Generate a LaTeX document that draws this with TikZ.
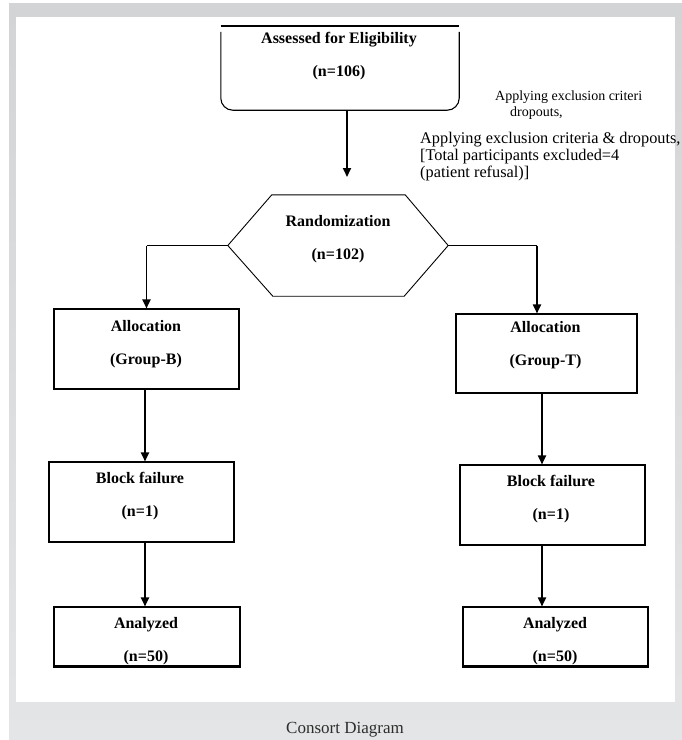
\documentclass[tikz,border=0pt]{standalone}
\usepackage{fontspec}
\setmainfont{Liberation Serif}
\usepackage{tikz}
\usetikzlibrary{positioning,arrows.meta}
\usepackage{xcolor}
\definecolor{greytop}{RGB}{211,212,214}
\definecolor{greybottom}{RGB}{228,229,230}
\definecolor{captiongrey}{RGB}{45,45,45}

\begin{document}
\begin{tikzpicture}[
    x=1pt, y=-1pt,
    frame/.style={
      draw,
      line width=1.1pt,
      minimum width=185pt,
      minimum height=80pt,
      inner sep=0pt
    },
    boxtext/.style={
      font=\bfseries\fontsize{16}{33}\selectfont,
      align=center,
      inner sep=0pt
    },
    note/.style={
      font=\fontsize{16.3}{17}\selectfont,
      align=left,
      anchor=west,
      inner sep=0pt
    },
    flow/.style={line width=1.8pt, -{Triangle[length=9pt,width=8pt]}},
    split/.style={line width=0.8pt}
  ]

    \useasboundingbox (0,0) rectangle (682,740);

    % Fondo
    \shade[top color=greytop, bottom color=greybottom] (9,3) rectangle (682,740);
    \fill[white] (16,17) rectangle (675,702);

    % Elegibilidad
    \node[minimum width=238pt, minimum height=84pt, inner sep=0pt] (assess) at (340,68) {};
    \draw[line width=1.8pt] (assess.north west) -- (assess.north east);
    \draw[line width=1.1pt, rounded corners=12pt]
      ([yshift=-6pt]assess.north west) -- (assess.south west)
      -- (assess.south east) -- ([yshift=-6pt]assess.north east);
    \node[boxtext] (assesstxt) at (339,56) {Assessed for Eligibility\\(n=106)};

    % Exclusiones
    \node[note, font=\fontsize{14}{16}\selectfont] (excl1) at (495,105)
      {Applying exclusion criteri\\\hspace*{15pt}dropouts,};
    \node[note] (excl2) at (420,157)
      {Applying exclusion criteria \& dropouts,\\{[}Total participants excluded=4\\(patient refusal)]};

    % Aleatorizacion
    \node[minimum width=220pt, minimum height=101pt, inner sep=0pt] (rand) at (338,245.5) {};
    \draw[line width=0.9pt]
      (rand.west) -- ([xshift=44pt]rand.north west) -- ([xshift=-43pt]rand.north east)
      -- (rand.east) -- ([xshift=-44pt]rand.south east) -- ([xshift=45pt]rand.south west)
      -- cycle;
    \node[boxtext] (randtxt) at (338,239.5) {Randomization\\(n=102)};

    % Grupos
    \node[frame] (allocB) at (146.5,349) {};
    \node[frame, minimum width=181pt, minimum height=79pt] (allocT) at (546.5,353.5) {};
    \node[frame] (blockB) at (141.5,502) {};
    \node[frame] (blockT) at (552.5,505) {};
    \node[frame, minimum width=186pt, minimum height=59pt] (anaB) at (147,636.5) {};
    \node[frame, minimum height=59pt] (anaT) at (555.5,636.5) {};
    \draw[line width=2pt] (anaB.south west) -- (anaB.south east);
    \draw[line width=2pt] (anaT.south west) -- (anaT.south east);

    \node[boxtext] (allocBtxt) at (146,344) {Allocation\\(Group-B)};
    \node[boxtext] (allocTtxt) at (545.5,345) {Allocation\\(Group-T)};
    \node[boxtext] (blockBtxt) at (140,496) {Block failure\\(n=1)};
    \node[boxtext] (blockTtxt) at (551,499) {Block failure\\(n=1)};
    \node[boxtext] (anaBtxt) at (146,641.5) {Analyzed\\(n=50)};
    \node[boxtext] (anaTtxt) at (555,641.5) {Analyzed\\(n=50)};

    % Conectores
    \coordinate (randin) at (347,177);
    \coordinate (splitT) at (537,245.5);
    \coordinate (colB) at (145,0);
    \coordinate (colT) at (542,0);

    \draw[flow] (assess.south -| randin) -- (randin);
    \draw[split] (rand.west) -- (rand.west -| allocB.north);
    \draw[flow] (rand.west -| allocB.north) -- (allocB.north);
    \draw[split] (rand.east) -- (splitT);
    \draw[flow] (splitT) -- (splitT |- allocT.north);
    \draw[flow] (allocB.south -| colB) -- (blockB.north -| colB);
    \draw[flow] (blockB.south -| colB) -- (anaB.north -| colB);
    \draw[flow] (allocT.south -| colT) -- (blockT.north -| colT);
    \draw[flow] (blockT.south -| colT) -- (anaT.north -| colT);

    % Titulo
    \node[font=\fontsize{17}{20}\selectfont, text=captiongrey] (caption) at (345,730) {Consort Diagram};

  \end{tikzpicture}
\end{document}
